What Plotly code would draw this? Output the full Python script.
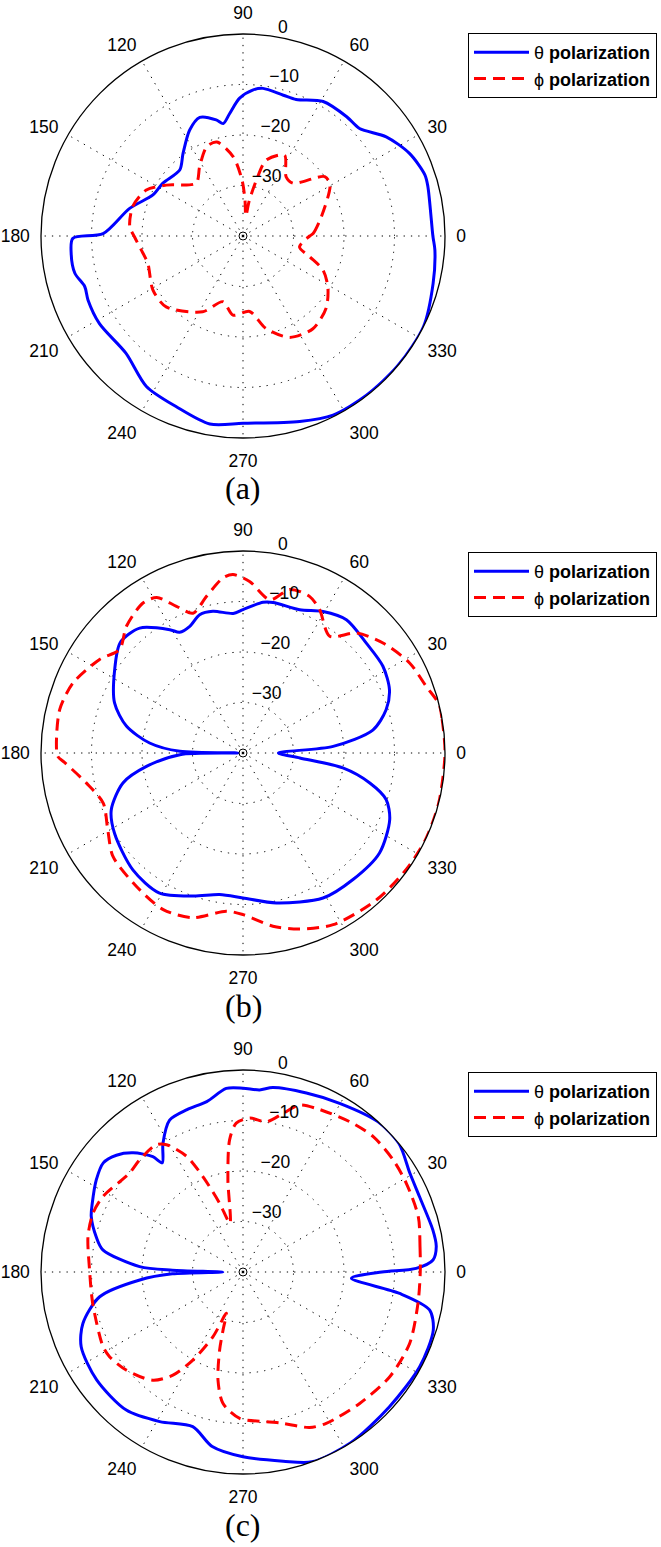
import plotly.graph_objects as go

# ---------------- data (angles in degrees, gain in dB) ----------------
# (a)
a_theta_ang = [0, 15, 18.6, 26.4, 34.7, 42.7, 49, 59.2, 68.7, 74, 82.3, 86, 91.4, 96.2, 100, 103, 110,
               116.7, 126, 133.8, 146.6, 155.5, 166.3, 179, 180.8, 185.8, 192.5, 197.7, 202.4, 211.4,
               225, 237.3, 248.7, 260, 270, 287, 296.7, 307.8, 320, 333.3, 346, 355.8, 360]
a_theta_db = [-2.4, -2.1, -2.0, -3.2, -5.5, -8.6, -8.7, -9.0, -11.0, -11.0, -10.5, -11.0, -12.7, -15.6,
              -17.4, -16.4, -15.0, -16.5, -19.8, -21.9, -21.0, -20.4, -16.9, -12.3, -6.3, -5.8, -5.9,
              -7.1, -6.8, -6.7, -7.2, -4.6, -3.7, -2.2, -2.9, -1.6, -0.3, -0.1, 0, 0, -1.2, -1.9, -2.4]
a_phi_ang = [0, 2, 13.9, 30.5, 36, 46.5, 53.9, 62.8, 73, 76.5, 80, 82, 86.8, 91, 97, 105.5, 112, 122,
             131.5, 146.4, 154.6, 165, 175.3, 180.4, 189.8, 196, 211, 222.7, 242, 253, 262.8, 275, 284,
             294.7, 307, 319, 329, 337, 342.8, 349, 360]
a_phi_db = [-26.8, -26.1, -24.0, -20.0, -20.0, -25.6, -25.5, -22.0, -24.3, -28.6, -33.0, -36.0, -32.9,
            -28.9, -24.2, -20.7, -20.9, -23.8, -26.0, -21.8, -18.8, -17.4, -17.5, -18.5, -19.9, -20.4,
            -19.2, -19.3, -23.0, -26.4, -24.2, -25.0, -21.1, -17.9, -17.0, -18.2, -20.4, -22.8, -26.2,
            -28.6, -26.8]

# (b)
b_theta_ang = [0, 4.2, 10, 16.8, 23.4, 31.8, 41.7, 52.2, 60.5, 68.4, 78.7, 82.4, 90, 94, 102, 107.4,
               112.8, 117.7, 120.7, 129.6, 138, 147, 158.7, 167, 173.9, 178.5, 180, 181.5, 187.9, 194,
               203.3, 212, 226.7, 239, 250.8, 260.6, 270, 282.5, 298.9, 311, 323.8, 335.6, 342, 346.7,
               351.5, 355, 360]
b_theta_db = [-33, -22.1, -13.9, -10.4, -8.4, -7.4, -7.3, -6.6, -7.8, -9.5, -9.6, -9.9, -11.6, -12.3,
              -11.3, -11.3, -12.8, -13.0, -11.6, -7.9, -7.3, -9.7, -12.7, -16.3, -21.4, -27.5, -39,
              -27.5, -20.7, -15.5, -11.6, -10.0, -8.2, -7.7, -10.0, -11.6, -11.3, -9.6, -7.2, -6.8,
              -6.5, -8.1, -10.2, -14.2, -20.0, -28.7, -33]
b_phi_ang = [0, 10, 14, 20, 28.4, 38, 46.6, 53.4, 61.9, 67, 74, 80, 87.8, 93.2, 96.5, 103, 109.7, 114.4,
             119, 123.7, 132.6, 140, 146.9, 157.6, 166.7, 177, 181, 183, 190.8, 199.7, 209.6, 218.5,
             231.3, 243, 253, 264, 270, 279.8, 287.8, 297.7, 312.3, 324.5, 334.7, 345.7, 360]
b_phi_db = [0, 0, 0, -1.4, -2.5, -4.7, -7.3, -11.2, -7.8, -6.3, -6.3, -9.2, -6.0, -4.6, -5.1, -8.1,
            -10.6, -8.1, -4.8, -4.3, -5.9, -8.1, -6.1, -3.6, -2.7, -3.0, -3.3, -4.6, -8.4, -10.6, -9.2,
            -7.1, -6.2, -5.2, -5.9, -8.5, -8.0, -5.2, -3.4, -1.6, -0.7, -0.3, 0, 0, 0]

# (c)
c_theta_ang = [0, 1.2, 3.6, 7.5, 12.5, 23, 30.6, 39.4, 48, 60.2, 70.5, 80.8, 84.8, 90, 95.2, 102, 109,
               115.8, 121.9, 126.5, 128, 132.7, 137.3, 142, 147.9, 155.5, 159.9, 166.5, 171, 177, 178.5,
               180, 181.5, 184.4, 189.8, 197.8, 204.8, 216.4, 229.8, 240.9, 252, 260, 270, 282, 290,
               302, 317.4, 331.8, 343, 348.5, 352.2, 356.7, 360]
c_theta_db = [-12.5, -5.7, -2.3, -1.4, -1.5, -2.0, -1.6, 0, 0, -1.5, -2.4, -3.0, -3.8, -3.6, -3.5, -5.5,
              -6.0, -6.6, -10.0, -13.1, -11.0, -7.9, -5.9, -4.9, -5.7, -7.2, -8.0, -10.1, -11.9, -19.5,
              -26.0, -36.0, -26.0, -19.5, -11.2, -6.7, -4.7, -4.0, -4.2, -6.1, -7.8, -4.9, -3.4, -1.7,
              0, 0, -0.6, -0.3, -0.6, -2.3, -8.7, -18.5, -12.5]
c_phi_ang = [0, 8, 17.5, 28.5, 36.7, 46, 54.6, 65.9, 71.3, 75.8, 81.2, 87.5, 92.6, 95.8, 99.3, 105,
             108.8, 112.8, 116, 121, 124.3, 132.7, 139, 151.7, 158.6, 167, 179, 191.8, 208, 212.4, 220,
             230.2, 235.8, 240.4, 245.1, 248, 251, 253.3, 257, 261.3, 268.7, 278.9, 284.8, 293.2,
             298.8, 311.6, 324.5, 336.8, 349.8, 360]
c_phi_db = [-4.9, -4.6, -3.6, -3.2, -2.9, -2.8, -3.5, -4.5, -5.1, -7.6, -9.9, -9.5, -10.5, -13.7, -21.5,
            -30.0, -25.6, -19.5, -14.5, -10.6, -9.5, -9.8, -10.2, -8.5, -8.1, -8.5, -9.6, -9.6, -8.6,
            -8.7, -9.8, -12.1, -15.3, -20.0, -25.9, -31.2, -27.9, -23.9, -18.0, -13.7, -11.0, -10.0,
            -9.0, -6.5, -5.8, -5.2, -4.3, -4.1, -4.8, -4.9]

angle_ticks = [0, 30, 60, 90, 120, 150, 180, 210, 240, 270, 300, 330]
radial_grid = [-30, -20, -10]
radial_label_vals = [-30, -20, -10, 0]
radial_label_text = ["\u221230", "\u221220", "\u221210", "0"]
captions = ["(a)", "(b)", "(c)"]
legend_names = ["\u03b8 <b>polarization</b>", "\u03d5 <b>polarization</b>"]

panels = [
    (a_theta_ang, a_theta_db, a_phi_ang, a_phi_db),
    (b_theta_ang, b_theta_db, b_phi_ang, b_phi_db),
    (c_theta_ang, c_theta_db, c_phi_ang, c_phi_db),
]

# ---------------- layout geometry ----------------
W, H = 661, 1547
cx, R = 243, 202
centers_y = [236, 753, 1272]
caption_y = [488, 1006, 1525]
legend_top = [33, 552, 1072]

FONT = "Liberation Sans, Arial, Helvetica, sans-serif"

fig = go.Figure()
layout = dict(
    width=W, height=H, margin=dict(l=0, r=0, t=0, b=0),
    paper_bgcolor="white", plot_bgcolor="white",
    font=dict(family=FONT, color="black"),
    annotations=[],
)

for i, (ta, td, pa, pd) in enumerate(panels):
    pk = "polar" if i == 0 else f"polar{i+1}"
    lk = "legend" if i == 0 else f"legend{i+1}"
    cy = centers_y[i]
    layout[pk] = dict(
        domain=dict(x=[(cx - R) / W, (cx + R) / W],
                    y=[1 - (cy + R) / H, 1 - (cy - R) / H]),
        bgcolor="white",
        radialaxis=dict(range=[-40, 0], tickvals=radial_grid, showticklabels=False,
                        showline=False, ticks="", gridcolor="black", gridwidth=1,
                        griddash="1.3px,6px", angle=80),
        angularaxis=dict(rotation=0, direction="counterclockwise", tickmode="array",
                         tickvals=angle_ticks, ticktext=[str(v) for v in angle_ticks],
                         showline=True, linecolor="black", linewidth=1.3,
                         gridcolor="black", gridwidth=1, griddash="1.3px,6px",
                         ticks="outside", ticklen=7, tickcolor="rgba(0,0,0,0)",
                         tickfont=dict(size=17.5, family=FONT, color="black")),
    )
    layout[lk] = dict(x=468 / W, y=1 - legend_top[i] / H, xanchor="left", yanchor="top",
                      bordercolor="black", borderwidth=1, bgcolor="white",
                      font=dict(size=18, family=FONT, color="black"),
                      itemwidth=55, tracegroupgap=0)
    sub = pk
    fig.add_trace(go.Scatterpolar(theta=ta, r=td, mode="lines", name=legend_names[0],
                                  line=dict(color="#0000ff", width=3, shape="spline",
                                            smoothing=0.8),
                                  subplot=sub, legend=lk, hoverinfo="skip"))
    fig.add_trace(go.Scatterpolar(theta=pa, r=pd, mode="lines", name=legend_names[1],
                                  line=dict(color="#ff0000", width=3, dash="12px,7px",
                                            shape="spline", smoothing=0.8),
                                  subplot=sub, legend=lk, hoverinfo="skip"))
    # radial tick labels
    fig.add_trace(go.Scatterpolar(theta=[80] * len(radial_label_vals), r=radial_label_vals,
                                  mode="text", text=radial_label_text, textposition="top right",
                                  textfont=dict(size=17.5, family=FONT, color="black"),
                                  subplot=sub, showlegend=False, cliponaxis=False,
                                  hoverinfo="skip"))
    # small circle at the origin
    fig.add_trace(go.Scatterpolar(theta=[0], r=[-40], mode="markers",
                                  marker=dict(symbol="circle-open", size=8,
                                              color="black", line=dict(width=1)),
                                  subplot=sub, showlegend=False, cliponaxis=False,
                                  hoverinfo="skip"))
    layout["annotations"].append(dict(
        text=captions[i], x=cx / W, y=1 - caption_y[i] / H, xref="paper", yref="paper",
        xanchor="center", yanchor="middle", showarrow=False,
        font=dict(size=32, family="Liberation Serif, Times New Roman, serif", color="black")))

fig.update_layout(**layout)
fig.write_html("out.html", config={"displayModeBar": False},
               post_script="document.body.style.margin='0px';"
                           "document.body.style.overflow='hidden';")
